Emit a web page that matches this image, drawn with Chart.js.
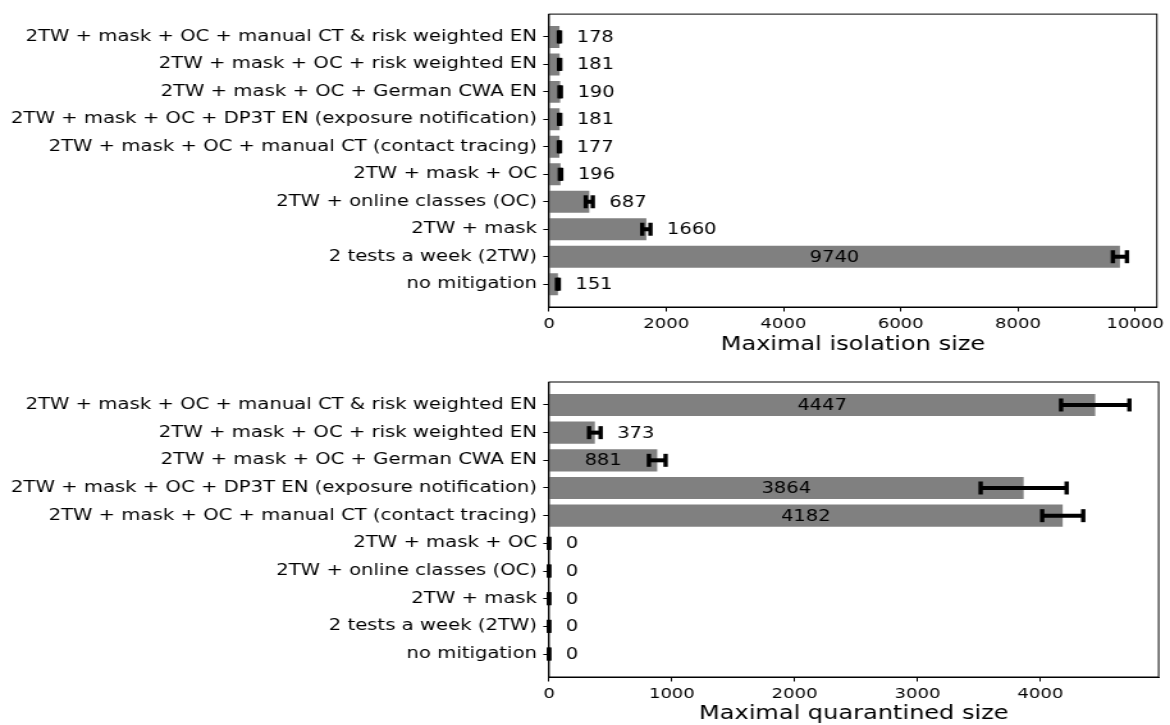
<!DOCTYPE html>
<html>
<head>
<meta charset="utf-8">
<script src="https://cdn.jsdelivr.net/npm/chart.js@4/dist/chart.umd.min.js"></script>
<style>
  html, body { margin: 0; padding: 0; background: #fff; }
  canvas { display: block; width: 1170px; }
</style>
</head>
<body>
<canvas id="isoChart" width="914" height="362" style="width:1170px;height:362px"></canvas>
<canvas id="quaChart" width="914" height="363" style="width:1170px;height:363px"></canvas>
<script>
// Scenario names (top to bottom)
const scenarios = [
    '2TW + mask + OC + manual CT & risk weighted EN',
    '2TW + mask + OC + risk weighted EN',
    '2TW + mask + OC + German CWA EN',
    '2TW + mask + OC + DP3T EN (exposure notification)',
    '2TW + mask + OC + manual CT (contact tracing)',
    '2TW + mask + OC',
    '2TW + online classes (OC)',
    '2TW + mask',
    '2 tests a week (2TW)',
    'no mitigation'
];

const isolationSize = [178, 181, 190, 181, 177, 196, 687, 1660, 9740, 151];
const isolationErr = [10, 10, 12, 10, 10, 12, 60, 70, 120, 15];

const quarantineSize = [4447, 373, 881, 3864, 4182, 0, 0, 0, 0, 0];
const quarantineErr = [278, 47, 68, 350, 167, 0, 0, 0, 0, 0];

const isolationTicks = [0, 2000, 4000, 6000, 8000, 10000];
const quarantineTicks = [0, 1000, 2000, 3000, 4000];

// the picture is stretched sideways, so everything is drawn narrower and stretched by css
const FONT = 'DejaVu Sans';
const BAR_GREY = '#808080';

// plot frame on all four sides
const boxPlugin = {
    id: 'box',
    afterDraw(chart) {
        const a = chart.chartArea;
        const ctx = chart.ctx;
        ctx.save();
        ctx.strokeStyle = '#000';
        ctx.lineWidth = 1;
        ctx.strokeRect(a.left, a.top, a.right - a.left, a.bottom - a.top);
        ctx.restore();
    }
};

// error bars and value labels
const errLabelPlugin = {
    id: 'errLabel',
    afterDatasetsDraw(chart) {
        const ctx = chart.ctx;
        const xs = chart.scales.x;
        const meta = chart.getDatasetMeta(0);
        const ds = chart.data.datasets[0];
        const errs = ds.errors;
        ctx.save();
        meta.data.forEach((bar, i) => {
            const v = ds.data[i].x;
            const e = errs[i];
            const x1 = xs.getPixelForValue(v - e);
            const x2 = xs.getPixelForValue(v + e);
            const y = bar.y;
            ctx.strokeStyle = '#000';
            ctx.lineWidth = 4;
            ctx.beginPath();
            ctx.moveTo(x1, y);
            ctx.lineTo(x2, y);
            ctx.stroke();
            ctx.lineWidth = 3.4;
            [x1, x2].forEach(cx => {
                ctx.beginPath();
                ctx.moveTo(cx, y - 6.5);
                ctx.lineTo(cx, y + 6.5);
                ctx.stroke();
            });
            ctx.fillStyle = '#000';
            ctx.font = '15.2px "' + FONT + '"';
            ctx.textBaseline = 'middle';
            if (v / xs.max > 0.17) {
                ctx.textAlign = 'center';
                ctx.fillText(String(v), (xs.getPixelForValue(0) + bar.x) / 2, y + 1);
            } else {
                ctx.textAlign = 'left';
                ctx.fillText(String(v), x2 + 13, y + 1);
            }
        });
        ctx.restore();
    }
};

function makeChart(id, values, errs, tickVals, xMax, title, pad, xHeight, titlePad) {
    const ctx = document.getElementById(id).getContext('2d');
    return new Chart(ctx, {
        type: 'bar',
        data: {
            datasets: [{
                data: values.map((v, i) => ({ x: v, y: i })),
                errors: errs,
                backgroundColor: BAR_GREY,
                borderWidth: 0,
                barPercentage: 0.8,
                categoryPercentage: 1.0
            }]
        },
        options: {
            indexAxis: 'y',
            responsive: false,
            animation: false,
            events: [],
            layout: { padding: pad },
            plugins: {
                legend: { display: false },
                tooltip: { enabled: false }
            },
            scales: {
                y: {
                    type: 'linear',
                    reverse: true,
                    offset: false,
                    min: -0.83,
                    max: 9.83,
                    afterFit: s => { s.width = 428.9; },
                    afterBuildTicks: s => { s.ticks = scenarios.map((_, i) => ({ value: i })); },
                    grid: { drawOnChartArea: false, drawTicks: true, tickLength: 4.5, tickColor: '#000', tickWidth: 1, offset: false },
                    border: { display: true, color: '#000', width: 1 },
                    ticks: {
                        color: '#000',
                        padding: 4.9,
                        autoSkip: false,
                        font: { family: FONT, size: 15.35 },
                        callback: v => scenarios[v]
                    }
                },
                x: {
                    type: 'linear',
                    min: 0,
                    max: xMax,
                    afterFit: s => { s.height = xHeight; },
                    afterBuildTicks: s => { s.ticks = tickVals.map(v => ({ value: v })); },
                    grid: { drawOnChartArea: false, drawTicks: true, tickLength: 4.5, tickColor: '#000', tickWidth: 1 },
                    border: { display: true, color: '#000', width: 1 },
                    ticks: {
                        color: '#000',
                        padding: 4.5,
                        maxRotation: 0,
                        autoSkip: false,
                        font: { family: FONT, size: 14.1 },
                        callback: v => String(v)
                    },
                    title: {
                        display: true,
                        text: title,
                        color: '#000',
                        font: { family: FONT, size: 18.8 },
                        padding: { top: 0, bottom: titlePad }
                    }
                }
            }
        },
        plugins: [errLabelPlugin, boxPlugin]
    });
}

makeChart('isoChart', isolationSize, isolationErr, isolationTicks, 10370,
    'Maximal isolation size', { top: 11, right: 8.9, left: 0, bottom: 0 }, 55, 5.7);
makeChart('quaChart', quarantineSize, quarantineErr, quarantineTicks, 4963,
    'Maximal quarantined size', { top: 20, right: 8.9, left: 0, bottom: 0 }, 48, -0.3);
</script>
</body>
</html>
